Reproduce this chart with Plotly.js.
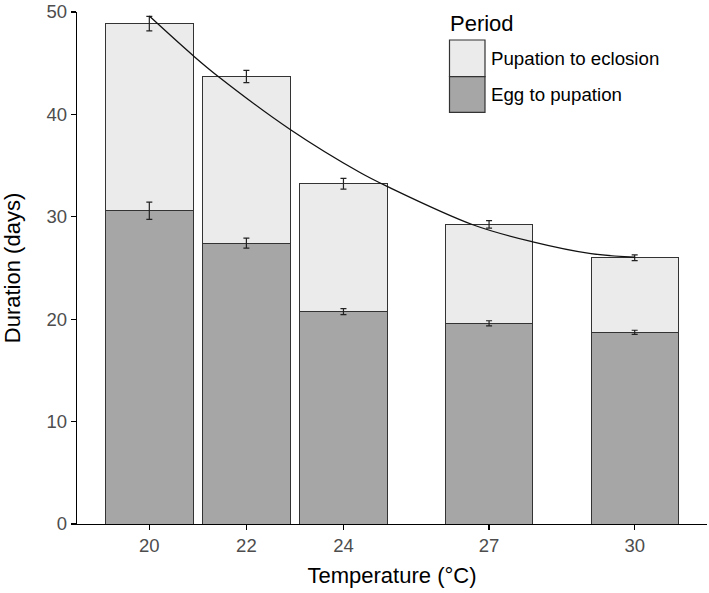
<!DOCTYPE html>
<html>
<head>
<meta charset="utf-8">
<script src="https://cdn.plot.ly/plotly-3.0.1.min.js"></script>
<style>
html,body{margin:0;padding:0;background:#fff;}
#chart{width:709px;height:593px;}
</style>
</head>
<body>
<div id="chart"></div>
<script>
// ---- data ----
var temperature = [20, 22, 24, 27, 30];
var eggToPupation = [30.59, 27.43, 20.74, 19.6, 18.72];
var eggToPupationErr = [0.85, 0.49, 0.3, 0.25, 0.2];
var eggToEclosion = [48.86, 43.7, 33.23, 29.26, 26.0];
var eggToEclosionErr = [0.71, 0.6, 0.52, 0.36, 0.28];
var fitX = [20, 20.9, 21.42, 22.91, 24.35, 24.9, 26.68, 27.9, 29.1, 30];
var fitY = [49.6, 45.75, 43.7, 38.5, 34.3, 32.97, 29.2, 27.55, 26.4, 26.05];
var xTicks = [20, 22, 24, 27, 30];
var yTicks = [0, 10, 20, 30, 40, 50];
var legendTitle = "Period";
var seriesNames = ["Pupation to eclosion", "Egg to pupation"];

var pupationToEclosion = eggToEclosion.map(function (v, i) { return v - eggToPupation[i]; });

var LIGHT = "#EBEBEB", DARK = "#A6A6A6", EDGE = "#333333";
var FONT = "Liberation Sans, Arial, sans-serif";

var traces = [
  {
    type: "bar", x: temperature, y: eggToPupation, width: 1.8, name: seriesNames[1],
    marker: { color: DARK, line: { color: EDGE, width: 1 } }, hoverinfo: "skip"
  },
  {
    type: "bar", x: temperature, y: pupationToEclosion, width: 1.8, name: seriesNames[0],
    marker: { color: LIGHT, line: { color: EDGE, width: 1 } }, hoverinfo: "skip"
  },
  {
    type: "scatter", mode: "markers", x: temperature, y: eggToPupation,
    marker: { size: 1, opacity: 0 }, showlegend: false, hoverinfo: "skip",
    error_y: { type: "data", array: eggToPupationErr, visible: true, color: "#222", thickness: 1.2, width: 3 }
  },
  {
    type: "scatter", mode: "markers", x: temperature, y: eggToEclosion,
    marker: { size: 1, opacity: 0 }, showlegend: false, hoverinfo: "skip",
    error_y: { type: "data", array: eggToEclosionErr, visible: true, color: "#222", thickness: 1.2, width: 3 }
  },
  {
    type: "scatter", mode: "lines", x: fitX, y: fitY, showlegend: false, hoverinfo: "skip",
    line: { color: "#111", width: 1.3, shape: "spline", smoothing: 1 }
  }
];

// plot area in pixels
var L = 77, R = 2, T = 12, B = 69, W = 709, H = 593;
var pw = W - L - R, ph = H - T - B;
function px(x) { return (x - L) / pw; }
function py(y) { return (H - B - y) / ph; }

var shapes = [
  { type: "rect", xref: "paper", yref: "paper", x0: px(449.5), x1: px(485), y0: py(76.7), y1: py(40),
    fillcolor: LIGHT, line: { color: EDGE, width: 1.2 } },
  { type: "rect", xref: "paper", yref: "paper", x0: px(449.5), x1: px(485), y0: py(112.3), y1: py(76.7),
    fillcolor: DARK, line: { color: EDGE, width: 1.2 } }
];
var annotations = [
  { xref: "paper", yref: "paper", x: px(448), y: py(23.5), text: legendTitle, showarrow: false,
    xanchor: "left", yanchor: "middle", font: { family: FONT, size: 22, color: "#000" } },
  { xref: "paper", yref: "paper", x: px(489), y: py(58.5), text: seriesNames[0], showarrow: false,
    xanchor: "left", yanchor: "middle", font: { family: FONT, size: 18.7, color: "#000" } },
  { xref: "paper", yref: "paper", x: px(489), y: py(94.5), text: seriesNames[1], showarrow: false,
    xanchor: "left", yanchor: "middle", font: { family: FONT, size: 18.7, color: "#000" } }
];

var layout = {
  width: W, height: H,
  margin: { l: L, r: R, t: T, b: B, pad: 0 },
  paper_bgcolor: "#fff", plot_bgcolor: "#fff",
  barmode: "stack",
  showlegend: false,
  font: { family: FONT },
  xaxis: {
    range: [18.51, 31.49], tickvals: xTicks, ticktext: xTicks.map(String),
    ticks: "outside", ticklen: 5, tickwidth: 1.2, tickcolor: "#000",
    showline: true, linecolor: "#000", linewidth: 1.2, showgrid: false, zeroline: false,
    tickfont: { family: FONT, size: 18.5, color: "#4D4D4D" },
    title: { text: "Temperature (°C)", font: { family: FONT, size: 22, color: "#000" }, standoff: 12 }
  },
  yaxis: {
    range: [0, 50], tickvals: yTicks, ticktext: yTicks.map(String),
    ticks: "outside", ticklen: 5, tickwidth: 1.2, tickcolor: "#000",
    showline: true, linecolor: "#000", linewidth: 1.2, showgrid: false, zeroline: false,
    tickfont: { family: FONT, size: 18.5, color: "#4D4D4D" },
    title: { text: "Duration (days)", font: { family: FONT, size: 22, color: "#000" }, standoff: 20 }
  },
  shapes: shapes,
  annotations: annotations
};

Plotly.newPlot("chart", traces, layout, { displayModeBar: false, staticPlot: true });
</script>
</body>
</html>
